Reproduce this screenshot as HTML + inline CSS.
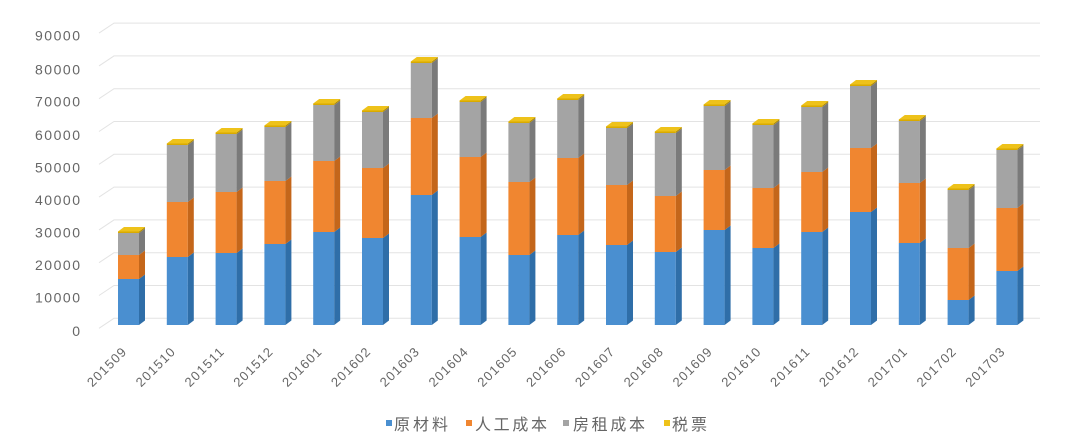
<!DOCTYPE html>
<html><head><meta charset="utf-8"><style>
html,body{margin:0;padding:0;background:#fff;}
svg{display:block;}
text{font-family:"Liberation Sans","Noto Sans CJK SC",sans-serif;fill:#666;}
</style></head><body>
<svg width="1080" height="448" viewBox="0 0 1080 448" xmlns="http://www.w3.org/2000/svg">
<rect width="1080" height="448" fill="#fff"/>
<g stroke="#e3e3e3" stroke-width="1" fill="none">
<polyline points="99,328.3 114,318.3 1040,318.3"/>
<polyline points="99,295.5 114,285.5 1040,285.5"/>
<polyline points="99,262.7 114,252.7 1040,252.7"/>
<polyline points="99,229.9 114,219.9 1040,219.9"/>
<polyline points="99,197.1 114,187.1 1040,187.1"/>
<polyline points="99,164.3 114,154.3 1040,154.3"/>
<polyline points="99,131.5 114,121.5 1040,121.5"/>
<polyline points="99,98.7 114,88.7 1040,88.7"/>
<polyline points="99,65.9 114,55.9 1040,55.9"/>
<polyline points="99,33.1 114,23.1 1040,23.1"/>
</g>
<g font-size="14" text-anchor="end">
<text x="80" y="336" textLength="9">0</text>
<text x="80" y="302.7" textLength="45">10000</text>
<text x="80" y="270" textLength="45">20000</text>
<text x="80" y="237.7" textLength="45">30000</text>
<text x="80" y="205" textLength="45">40000</text>
<text x="80" y="172.7" textLength="45">50000</text>
<text x="80" y="140" textLength="45">60000</text>
<text x="80" y="106.7" textLength="45">70000</text>
<text x="80" y="74.3" textLength="45">80000</text>
<text x="80" y="40.7" textLength="45">90000</text>
</g>
<g>
<g transform="translate(118,0)"><rect x="0" y="279" width="21" height="46" fill="#4a8fd0"/><rect x="0" y="255" width="21" height="24" fill="#f08630"/><rect x="0" y="233" width="21" height="22" fill="#a4a4a4"/><rect x="0" y="231.5" width="21" height="1.5" fill="#d9aa00"/><polygon points="21,279 27,274.5 27,320.5 21,325" fill="#2f6ea8"/><polygon points="21,255 27,250.5 27,274.5 21,279" fill="#c4661a"/><polygon points="21,233 27,228.5 27,250.5 21,255" fill="#7a7a7a"/><polygon points="21,231.5 27,227 27,228.5 21,233" fill="#b38d00"/><polygon points="0,231.5 21,231.5 27,227 6,227" fill="#eec21a"/></g>
<g transform="translate(166.8,0)"><rect x="0" y="257" width="21" height="68" fill="#4a8fd0"/><rect x="0" y="202" width="21" height="55" fill="#f08630"/><rect x="0" y="145" width="21" height="57" fill="#a4a4a4"/><rect x="0" y="143.5" width="21" height="1.5" fill="#d9aa00"/><polygon points="21,257 27,252.5 27,320.5 21,325" fill="#2f6ea8"/><polygon points="21,202 27,197.5 27,252.5 21,257" fill="#c4661a"/><polygon points="21,145 27,140.5 27,197.5 21,202" fill="#7a7a7a"/><polygon points="21,143.5 27,139 27,140.5 21,145" fill="#b38d00"/><polygon points="0,143.5 21,143.5 27,139 6,139" fill="#eec21a"/></g>
<g transform="translate(215.6,0)"><rect x="0" y="253" width="21" height="72" fill="#4a8fd0"/><rect x="0" y="192" width="21" height="61" fill="#f08630"/><rect x="0" y="134" width="21" height="58" fill="#a4a4a4"/><rect x="0" y="132.5" width="21" height="1.5" fill="#d9aa00"/><polygon points="21,253 27,248.5 27,320.5 21,325" fill="#2f6ea8"/><polygon points="21,192 27,187.5 27,248.5 21,253" fill="#c4661a"/><polygon points="21,134 27,129.5 27,187.5 21,192" fill="#7a7a7a"/><polygon points="21,132.5 27,128 27,129.5 21,134" fill="#b38d00"/><polygon points="0,132.5 21,132.5 27,128 6,128" fill="#eec21a"/></g>
<g transform="translate(264.4,0)"><rect x="0" y="244" width="21" height="81" fill="#4a8fd0"/><rect x="0" y="181" width="21" height="63" fill="#f08630"/><rect x="0" y="127" width="21" height="54" fill="#a4a4a4"/><rect x="0" y="125.5" width="21" height="1.5" fill="#d9aa00"/><polygon points="21,244 27,239.5 27,320.5 21,325" fill="#2f6ea8"/><polygon points="21,181 27,176.5 27,239.5 21,244" fill="#c4661a"/><polygon points="21,127 27,122.5 27,176.5 21,181" fill="#7a7a7a"/><polygon points="21,125.5 27,121 27,122.5 21,127" fill="#b38d00"/><polygon points="0,125.5 21,125.5 27,121 6,121" fill="#eec21a"/></g>
<g transform="translate(313.2,0)"><rect x="0" y="232" width="21" height="93" fill="#4a8fd0"/><rect x="0" y="161" width="21" height="71" fill="#f08630"/><rect x="0" y="105" width="21" height="56" fill="#a4a4a4"/><rect x="0" y="103.5" width="21" height="1.5" fill="#d9aa00"/><polygon points="21,232 27,227.5 27,320.5 21,325" fill="#2f6ea8"/><polygon points="21,161 27,156.5 27,227.5 21,232" fill="#c4661a"/><polygon points="21,105 27,100.5 27,156.5 21,161" fill="#7a7a7a"/><polygon points="21,103.5 27,99 27,100.5 21,105" fill="#b38d00"/><polygon points="0,103.5 21,103.5 27,99 6,99" fill="#eec21a"/></g>
<g transform="translate(362,0)"><rect x="0" y="238" width="21" height="87" fill="#4a8fd0"/><rect x="0" y="168" width="21" height="70" fill="#f08630"/><rect x="0" y="112" width="21" height="56" fill="#a4a4a4"/><rect x="0" y="110.5" width="21" height="1.5" fill="#d9aa00"/><polygon points="21,238 27,233.5 27,320.5 21,325" fill="#2f6ea8"/><polygon points="21,168 27,163.5 27,233.5 21,238" fill="#c4661a"/><polygon points="21,112 27,107.5 27,163.5 21,168" fill="#7a7a7a"/><polygon points="21,110.5 27,106 27,107.5 21,112" fill="#b38d00"/><polygon points="0,110.5 21,110.5 27,106 6,106" fill="#eec21a"/></g>
<g transform="translate(410.8,0)"><rect x="0" y="195" width="21" height="130" fill="#4a8fd0"/><rect x="0" y="118" width="21" height="77" fill="#f08630"/><rect x="0" y="63" width="21" height="55" fill="#a4a4a4"/><rect x="0" y="61.5" width="21" height="1.5" fill="#d9aa00"/><polygon points="21,195 27,190.5 27,320.5 21,325" fill="#2f6ea8"/><polygon points="21,118 27,113.5 27,190.5 21,195" fill="#c4661a"/><polygon points="21,63 27,58.5 27,113.5 21,118" fill="#7a7a7a"/><polygon points="21,61.5 27,57 27,58.5 21,63" fill="#b38d00"/><polygon points="0,61.5 21,61.5 27,57 6,57" fill="#eec21a"/></g>
<g transform="translate(459.6,0)"><rect x="0" y="237" width="21" height="88" fill="#4a8fd0"/><rect x="0" y="157" width="21" height="80" fill="#f08630"/><rect x="0" y="102" width="21" height="55" fill="#a4a4a4"/><rect x="0" y="100.5" width="21" height="1.5" fill="#d9aa00"/><polygon points="21,237 27,232.5 27,320.5 21,325" fill="#2f6ea8"/><polygon points="21,157 27,152.5 27,232.5 21,237" fill="#c4661a"/><polygon points="21,102 27,97.5 27,152.5 21,157" fill="#7a7a7a"/><polygon points="21,100.5 27,96 27,97.5 21,102" fill="#b38d00"/><polygon points="0,100.5 21,100.5 27,96 6,96" fill="#eec21a"/></g>
<g transform="translate(508.4,0)"><rect x="0" y="255" width="21" height="70" fill="#4a8fd0"/><rect x="0" y="182" width="21" height="73" fill="#f08630"/><rect x="0" y="123" width="21" height="59" fill="#a4a4a4"/><rect x="0" y="121.5" width="21" height="1.5" fill="#d9aa00"/><polygon points="21,255 27,250.5 27,320.5 21,325" fill="#2f6ea8"/><polygon points="21,182 27,177.5 27,250.5 21,255" fill="#c4661a"/><polygon points="21,123 27,118.5 27,177.5 21,182" fill="#7a7a7a"/><polygon points="21,121.5 27,117 27,118.5 21,123" fill="#b38d00"/><polygon points="0,121.5 21,121.5 27,117 6,117" fill="#eec21a"/></g>
<g transform="translate(557.2,0)"><rect x="0" y="235" width="21" height="90" fill="#4a8fd0"/><rect x="0" y="158" width="21" height="77" fill="#f08630"/><rect x="0" y="100" width="21" height="58" fill="#a4a4a4"/><rect x="0" y="98.5" width="21" height="1.5" fill="#d9aa00"/><polygon points="21,235 27,230.5 27,320.5 21,325" fill="#2f6ea8"/><polygon points="21,158 27,153.5 27,230.5 21,235" fill="#c4661a"/><polygon points="21,100 27,95.5 27,153.5 21,158" fill="#7a7a7a"/><polygon points="21,98.5 27,94 27,95.5 21,100" fill="#b38d00"/><polygon points="0,98.5 21,98.5 27,94 6,94" fill="#eec21a"/></g>
<g transform="translate(606,0)"><rect x="0" y="245" width="21" height="80" fill="#4a8fd0"/><rect x="0" y="185" width="21" height="60" fill="#f08630"/><rect x="0" y="128" width="21" height="57" fill="#a4a4a4"/><rect x="0" y="126.5" width="21" height="1.5" fill="#d9aa00"/><polygon points="21,245 27,240.5 27,320.5 21,325" fill="#2f6ea8"/><polygon points="21,185 27,180.5 27,240.5 21,245" fill="#c4661a"/><polygon points="21,128 27,123.5 27,180.5 21,185" fill="#7a7a7a"/><polygon points="21,126.5 27,122 27,123.5 21,128" fill="#b38d00"/><polygon points="0,126.5 21,126.5 27,122 6,122" fill="#eec21a"/></g>
<g transform="translate(654.8,0)"><rect x="0" y="252" width="21" height="73" fill="#4a8fd0"/><rect x="0" y="196" width="21" height="56" fill="#f08630"/><rect x="0" y="133" width="21" height="63" fill="#a4a4a4"/><rect x="0" y="131.5" width="21" height="1.5" fill="#d9aa00"/><polygon points="21,252 27,247.5 27,320.5 21,325" fill="#2f6ea8"/><polygon points="21,196 27,191.5 27,247.5 21,252" fill="#c4661a"/><polygon points="21,133 27,128.5 27,191.5 21,196" fill="#7a7a7a"/><polygon points="21,131.5 27,127 27,128.5 21,133" fill="#b38d00"/><polygon points="0,131.5 21,131.5 27,127 6,127" fill="#eec21a"/></g>
<g transform="translate(703.6,0)"><rect x="0" y="230" width="21" height="95" fill="#4a8fd0"/><rect x="0" y="170" width="21" height="60" fill="#f08630"/><rect x="0" y="106" width="21" height="64" fill="#a4a4a4"/><rect x="0" y="104.5" width="21" height="1.5" fill="#d9aa00"/><polygon points="21,230 27,225.5 27,320.5 21,325" fill="#2f6ea8"/><polygon points="21,170 27,165.5 27,225.5 21,230" fill="#c4661a"/><polygon points="21,106 27,101.5 27,165.5 21,170" fill="#7a7a7a"/><polygon points="21,104.5 27,100 27,101.5 21,106" fill="#b38d00"/><polygon points="0,104.5 21,104.5 27,100 6,100" fill="#eec21a"/></g>
<g transform="translate(752.4,0)"><rect x="0" y="248" width="21" height="77" fill="#4a8fd0"/><rect x="0" y="188" width="21" height="60" fill="#f08630"/><rect x="0" y="125" width="21" height="63" fill="#a4a4a4"/><rect x="0" y="123.5" width="21" height="1.5" fill="#d9aa00"/><polygon points="21,248 27,243.5 27,320.5 21,325" fill="#2f6ea8"/><polygon points="21,188 27,183.5 27,243.5 21,248" fill="#c4661a"/><polygon points="21,125 27,120.5 27,183.5 21,188" fill="#7a7a7a"/><polygon points="21,123.5 27,119 27,120.5 21,125" fill="#b38d00"/><polygon points="0,123.5 21,123.5 27,119 6,119" fill="#eec21a"/></g>
<g transform="translate(801.2,0)"><rect x="0" y="232" width="21" height="93" fill="#4a8fd0"/><rect x="0" y="172" width="21" height="60" fill="#f08630"/><rect x="0" y="107" width="21" height="65" fill="#a4a4a4"/><rect x="0" y="105.5" width="21" height="1.5" fill="#d9aa00"/><polygon points="21,232 27,227.5 27,320.5 21,325" fill="#2f6ea8"/><polygon points="21,172 27,167.5 27,227.5 21,232" fill="#c4661a"/><polygon points="21,107 27,102.5 27,167.5 21,172" fill="#7a7a7a"/><polygon points="21,105.5 27,101 27,102.5 21,107" fill="#b38d00"/><polygon points="0,105.5 21,105.5 27,101 6,101" fill="#eec21a"/></g>
<g transform="translate(850,0)"><rect x="0" y="212" width="21" height="113" fill="#4a8fd0"/><rect x="0" y="148" width="21" height="64" fill="#f08630"/><rect x="0" y="86" width="21" height="62" fill="#a4a4a4"/><rect x="0" y="84.5" width="21" height="1.5" fill="#d9aa00"/><polygon points="21,212 27,207.5 27,320.5 21,325" fill="#2f6ea8"/><polygon points="21,148 27,143.5 27,207.5 21,212" fill="#c4661a"/><polygon points="21,86 27,81.5 27,143.5 21,148" fill="#7a7a7a"/><polygon points="21,84.5 27,80 27,81.5 21,86" fill="#b38d00"/><polygon points="0,84.5 21,84.5 27,80 6,80" fill="#eec21a"/></g>
<g transform="translate(898.8,0)"><rect x="0" y="243" width="21" height="82" fill="#4a8fd0"/><rect x="0" y="183" width="21" height="60" fill="#f08630"/><rect x="0" y="121" width="21" height="62" fill="#a4a4a4"/><rect x="0" y="119.5" width="21" height="1.5" fill="#d9aa00"/><polygon points="21,243 27,238.5 27,320.5 21,325" fill="#2f6ea8"/><polygon points="21,183 27,178.5 27,238.5 21,243" fill="#c4661a"/><polygon points="21,121 27,116.5 27,178.5 21,183" fill="#7a7a7a"/><polygon points="21,119.5 27,115 27,116.5 21,121" fill="#b38d00"/><polygon points="0,119.5 21,119.5 27,115 6,115" fill="#eec21a"/></g>
<g transform="translate(947.6,0)"><rect x="0" y="300" width="21" height="25" fill="#4a8fd0"/><rect x="0" y="248" width="21" height="52" fill="#f08630"/><rect x="0" y="190" width="21" height="58" fill="#a4a4a4"/><rect x="0" y="188.5" width="21" height="1.5" fill="#d9aa00"/><polygon points="21,300 27,295.5 27,320.5 21,325" fill="#2f6ea8"/><polygon points="21,248 27,243.5 27,295.5 21,300" fill="#c4661a"/><polygon points="21,190 27,185.5 27,243.5 21,248" fill="#7a7a7a"/><polygon points="21,188.5 27,184 27,185.5 21,190" fill="#b38d00"/><polygon points="0,188.5 21,188.5 27,184 6,184" fill="#eec21a"/></g>
<g transform="translate(996.4,0)"><rect x="0" y="271" width="21" height="54" fill="#4a8fd0"/><rect x="0" y="208" width="21" height="63" fill="#f08630"/><rect x="0" y="150" width="21" height="58" fill="#a4a4a4"/><rect x="0" y="148.5" width="21" height="1.5" fill="#d9aa00"/><polygon points="21,271 27,266.5 27,320.5 21,325" fill="#2f6ea8"/><polygon points="21,208 27,203.5 27,266.5 21,271" fill="#c4661a"/><polygon points="21,150 27,145.5 27,203.5 21,208" fill="#7a7a7a"/><polygon points="21,148.5 27,144 27,145.5 21,150" fill="#b38d00"/><polygon points="0,148.5 21,148.5 27,144 6,144" fill="#eec21a"/></g>
</g>
<g font-size="13" text-anchor="end">
<text transform="translate(127,353) rotate(-45)" textLength="49">201509</text>
<text transform="translate(175.8,353) rotate(-45)" textLength="49">201510</text>
<text transform="translate(224.6,353) rotate(-45)" textLength="49">201511</text>
<text transform="translate(273.4,353) rotate(-45)" textLength="49">201512</text>
<text transform="translate(322.2,353) rotate(-45)" textLength="49">201601</text>
<text transform="translate(371,353) rotate(-45)" textLength="49">201602</text>
<text transform="translate(419.8,353) rotate(-45)" textLength="49">201603</text>
<text transform="translate(468.6,353) rotate(-45)" textLength="49">201604</text>
<text transform="translate(517.4,353) rotate(-45)" textLength="49">201605</text>
<text transform="translate(566.2,353) rotate(-45)" textLength="49">201606</text>
<text transform="translate(615,353) rotate(-45)" textLength="49">201607</text>
<text transform="translate(663.8,353) rotate(-45)" textLength="49">201608</text>
<text transform="translate(712.6,353) rotate(-45)" textLength="49">201609</text>
<text transform="translate(761.4,353) rotate(-45)" textLength="49">201610</text>
<text transform="translate(810.2,353) rotate(-45)" textLength="49">201611</text>
<text transform="translate(859,353) rotate(-45)" textLength="49">201612</text>
<text transform="translate(907.8,353) rotate(-45)" textLength="49">201701</text>
<text transform="translate(956.6,353) rotate(-45)" textLength="49">201702</text>
<text transform="translate(1005.4,353) rotate(-45)" textLength="49">201703</text>
</g>
<g font-size="16">
<rect x="386" y="420" width="6" height="6" fill="#4a8fd0"/>
<text x="394" y="430" textLength="54">原材料</text>
<rect x="466" y="420" width="6" height="6" fill="#f08630"/>
<text x="475" y="430" textLength="72">人工成本</text>
<rect x="563" y="420" width="6" height="6" fill="#a4a4a4"/>
<text x="573" y="430" textLength="72">房租成本</text>
<rect x="664" y="420" width="6" height="6" fill="#eec21a"/>
<text x="672" y="430" textLength="35">税票</text>
</g>
</svg>
</body></html>
